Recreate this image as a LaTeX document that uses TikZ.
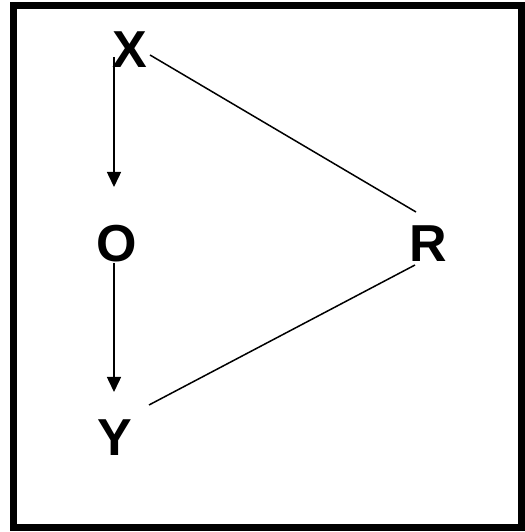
\documentclass[tikz,border=0pt]{standalone}
\usepackage{fontspec}
\setmainfont{Liberation Sans}
\usepackage{tikz}
\usetikzlibrary{arrows.meta,calc}

\begin{document}
\begin{tikzpicture}[x=1pt, y=1pt,
  var/.style={font=\fontsize{52}{60}\bfseries\selectfont, inner sep=0pt},
  link/.style={line width=1.5pt},
  cause/.style={link, -{Triangle[length=15pt, width=14pt]}}]
  \useasboundingbox (0,0) rectangle (524,532);
  % frame
  \draw[line width=7pt] (13.5,4.5) rectangle (521,526);
  % variables
  \node[var] (X) at (130,482) {X};
  \node[var] (O) at (117,288) {O};
  \node[var] (R) at (428,288) {R};
  \node[var] (Y) at (115,94) {Y};
  % arrows
  \draw[cause] ([shift={(-16,-7)}]X.center) -- ([shift={(-3,57)}]O.center);
  \draw[cause] ([shift={(-3,-19)}]O.center) -- ([shift={(-1,46)}]Y.center);
  % lines to R
  \draw[link] ([shift={(20,-5)}]X.center) -- ([shift={(-12,32)}]R.center);
  \draw[link] ([shift={(-13,-21)}]R.center) -- ([shift={(34,33)}]Y.center);
\end{tikzpicture}
\end{document}
